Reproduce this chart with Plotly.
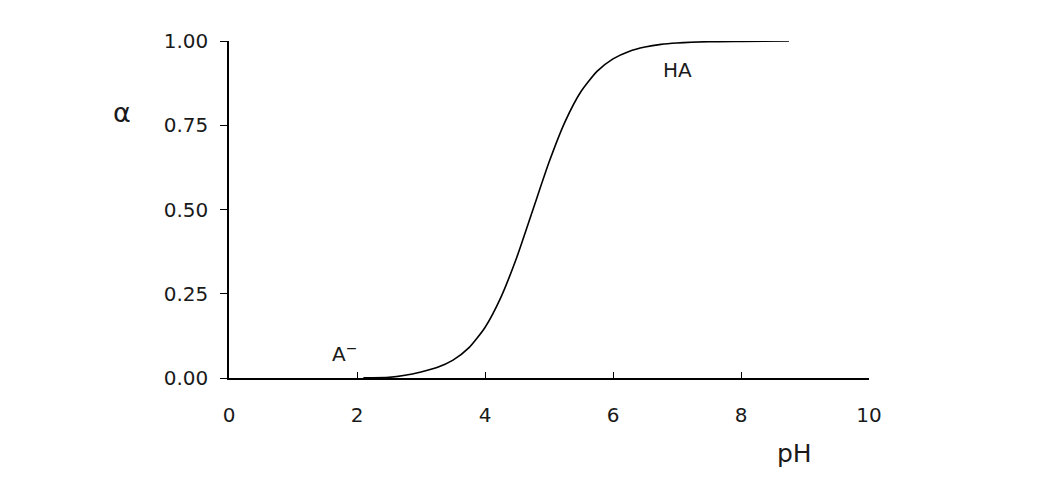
import plotly.graph_objects as go

# fraction curve
ph = [2.1, 2.5, 2.75, 3.0, 3.25, 3.5, 3.75, 4.0, 4.25, 4.5, 4.75, 5.0,
      5.25, 5.5, 5.75, 6.0, 6.25, 6.5, 6.75, 7.0, 7.5, 8.0, 8.75]
alpha = [0.0005, 0.002, 0.008, 0.018, 0.031, 0.053, 0.09, 0.15, 0.24, 0.36,
         0.50, 0.64, 0.76, 0.85, 0.91, 0.947, 0.969, 0.982, 0.99, 0.994,
         0.998, 0.999, 1.0]

x_ticks = [0, 2, 4, 6, 8, 10]
y_ticks = [0, 0.25, 0.5, 0.75, 1.0]
y_labels = ["0.00", "0.25", "0.50", "0.75", "1.00"]

font = dict(family="DejaVu Sans, sans-serif", size=20, color="#1a1a1a")
big_font = dict(font, size=25)

fig = go.Figure()

fig.add_trace(
    go.Scatter(
        x=ph,
        y=alpha,
        mode="lines",
        line=dict(color="black", width=1.6, shape="spline", smoothing=0.6),
        cliponaxis=False,
        showlegend=False,
        hoverinfo="skip",
    )
)

# curve labels sit inside the plot, axis labels outside (paper coords)
labels = [
    ("A<sup>−</sup>", 1.81, 0.075, "x", "y", font),
    ("HA", 7.0, 0.913, "x", "y", font),
    ("α", -0.167, 0.787, "paper", "paper", dict(font, size=27)),
    ("pH", 0.884, -0.223, "paper", "paper", big_font),
]
for text, x, y, xr, yr, f in labels:
    fig.add_annotation(
        x=x, y=y, xref=xr, yref=yr, text=text,
        xanchor="center", yanchor="middle",
        showarrow=False, font=f,
    )

# page body has an 8px margin, so the figure is sized to sit inside it
fig.update_layout(
    width=1025,
    height=465,
    margin=dict(l=221, r=164, t=33, b=95),
    paper_bgcolor="white",
    plot_bgcolor="white",
    font=font,
    xaxis=dict(
        range=[0, 10],
        tickvals=x_ticks,
        ticks="inside",
        ticklen=6,
        tickcolor="black",
        showline=True,
        linecolor="black",
        linewidth=1.5,
        showgrid=False,
        zeroline=False,
        ticklabelstandoff=18,
    ),
    yaxis=dict(
        range=[0, 1],
        tickvals=y_ticks,
        ticktext=y_labels,
        ticks="outside",
        ticklen=7,
        tickcolor="black",
        showline=True,
        linecolor="black",
        linewidth=1.5,
        showgrid=False,
        zeroline=False,
        ticklabelstandoff=8,
    ),
)

fig.write_html("out.html")
